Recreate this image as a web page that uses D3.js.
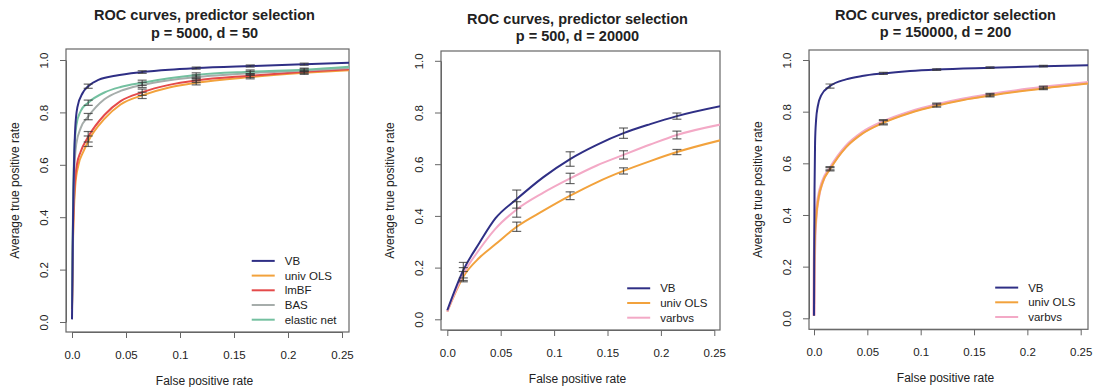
<!DOCTYPE html>
<html>
<head>
<meta charset="utf-8">
<script src="https://cdn.jsdelivr.net/npm/d3@7"></script>
<style>
  body { margin: 0; background: #fff; }
  svg { display: block; font-family: "Liberation Sans", Arial, sans-serif; }
</style>
</head>
<body>
<svg id="chart" width="1098" height="387"></svg>
<script>
// x positions where error bars were drawn
const errX = [0.015, 0.065, 0.115, 0.165, 0.215];
const xTicks = [0, 0.05, 0.1, 0.15, 0.2, 0.25];
const xTickLabels = ['0.0', '0.05', '0.1', '0.15', '0.2', '0.25'];
const yTicks = [0, 0.2, 0.4, 0.6, 0.8, 1.0];
const yTickLabels = ['0.0', '0.2', '0.4', '0.6', '0.8', '1.0'];

// panel 1: p = 5000, d = 50
const p1VB = [[0,0.01],[0.0005,0.2],[0.001,0.4],[0.002,0.62],[0.003,0.74],[0.005,0.82],[0.01,0.875],[0.015,0.9],[0.025,0.925],[0.04,0.94],[0.065,0.954],[0.09,0.963],[0.115,0.969],[0.165,0.977],[0.215,0.984],[0.26,0.99]];
const p1OLS = [[0,0.05],[0.0005,0.18],[0.001,0.32],[0.002,0.45],[0.003,0.52],[0.006,0.6],[0.0105,0.65],[0.015,0.69],[0.03,0.775],[0.045,0.83],[0.065,0.865],[0.09,0.895],[0.115,0.913],[0.165,0.935],[0.215,0.951],[0.26,0.962]];
const p1LmBF = [[0,0.06],[0.0005,0.2],[0.001,0.35],[0.002,0.48],[0.003,0.55],[0.0045,0.6],[0.008,0.65],[0.015,0.707],[0.03,0.79],[0.045,0.843],[0.065,0.877],[0.09,0.905],[0.115,0.922],[0.165,0.94],[0.215,0.955],[0.26,0.966]];
const p1BAS = [[0,0.06],[0.0005,0.25],[0.001,0.4],[0.002,0.57],[0.004,0.68],[0.008,0.74],[0.015,0.784],[0.03,0.85],[0.045,0.882],[0.065,0.905],[0.09,0.923],[0.115,0.935],[0.165,0.95],[0.215,0.96],[0.26,0.97]];
const p1Enet = [[0,0.06],[0.0005,0.28],[0.001,0.45],[0.002,0.64],[0.004,0.75],[0.008,0.805],[0.015,0.837],[0.03,0.876],[0.045,0.897],[0.065,0.913],[0.09,0.93],[0.115,0.943],[0.165,0.955],[0.215,0.963],[0.26,0.975]];
const p1Err = {
  VB: [0.008, 0.005, 0.004, 0.004, 0.004],
  OLS: [0.02, 0.012, 0.008, 0.007, 0.006],
  LmBF: [0.02, 0.012, 0.008, 0.007, 0.006],
  BAS: [0.012, 0.01, 0.008, 0.007, 0.006],
  Enet: [0.01, 0.01, 0.008, 0.007, 0.006]
};

// panel 2: p = 500, d = 20000
const p2VB = [[0,0.035],[0.015,0.19],[0.03,0.295],[0.045,0.39],[0.065,0.465],[0.09,0.55],[0.115,0.62],[0.14,0.675],[0.165,0.72],[0.19,0.755],[0.215,0.786],[0.26,0.828]];
const p2OLS = [[0,0.03],[0.015,0.165],[0.03,0.238],[0.045,0.29],[0.065,0.358],[0.09,0.42],[0.115,0.478],[0.14,0.53],[0.165,0.574],[0.19,0.612],[0.215,0.647],[0.26,0.697]];
const p2Varbvs = [[0,0.03],[0.015,0.175],[0.03,0.27],[0.045,0.35],[0.065,0.425],[0.09,0.49],[0.115,0.545],[0.14,0.595],[0.165,0.636],[0.19,0.676],[0.215,0.713],[0.26,0.757]];
const p2Err = {
  VB: [0.03, 0.035, 0.028, 0.02, 0.012],
  OLS: [0.02, 0.018, 0.015, 0.012, 0.01],
  Varbvs: [0.025, 0.03, 0.02, 0.016, 0.015]
};

// panel 3: p = 150000, d = 200
const p3VB = [[0,0.01],[0.0002,0.25],[0.0005,0.5],[0.001,0.68],[0.002,0.77],[0.0035,0.82],[0.007,0.865],[0.015,0.899],[0.03,0.925],[0.045,0.938],[0.065,0.948],[0.09,0.957],[0.115,0.963],[0.165,0.97],[0.215,0.976],[0.26,0.98]];
const p3OLS = [[0,0.01],[0.0003,0.2],[0.0008,0.3],[0.002,0.39],[0.004,0.46],[0.008,0.525],[0.015,0.577],[0.03,0.662],[0.045,0.714],[0.065,0.757],[0.09,0.795],[0.115,0.823],[0.14,0.845],[0.165,0.862],[0.19,0.877],[0.215,0.89],[0.26,0.91]];
const p3Varbvs = [[0,0.01],[0.0003,0.21],[0.0008,0.31],[0.002,0.4],[0.004,0.465],[0.008,0.53],[0.015,0.581],[0.03,0.666],[0.045,0.718],[0.065,0.761],[0.09,0.799],[0.115,0.827],[0.14,0.849],[0.165,0.866],[0.19,0.881],[0.215,0.894],[0.26,0.914]];
const p3Err = {
  VB: [0.008, 0.004, 0.003, 0.003, 0.003],
  OLS: [0.006, 0.008, 0.006, 0.005, 0.005],
  Varbvs: [0.006, 0.008, 0.006, 0.005, 0.005]
};

const titleLine1 = 'ROC curves, predictor selection';
const subTitles = ['p = 5000, d = 50', 'p = 500, d = 20000', 'p = 150000, d = 200'];

const colVB = '#2f2f85', colOLS = '#f2a23c', colLmBF = '#e44a4a',
      colBAS = '#a6adab', colEnet = '#74c0a0', colVarbvs = '#f3a9c6';

// series in draw order (back to front); legend keeps its own order
const panels = [
  {
    box: [66, 49, 349, 332], xr: [72, 342], yr: [322, 60], t1: 20, t2: 38,
    series: [
      {data: p1OLS, err: p1Err.OLS, color: colOLS},
      {data: p1LmBF, err: p1Err.LmBF, color: colLmBF},
      {data: p1BAS, err: p1Err.BAS, color: colBAS},
      {data: p1Enet, err: p1Err.Enet, color: colEnet},
      {data: p1VB, err: p1Err.VB, color: colVB}
    ],
    legend: [['VB', colVB], ['univ OLS', colOLS], ['lmBF', colLmBF], ['BAS', colBAS], ['elastic net', colEnet]]
  },
  {
    box: [441, 51, 720, 330], xr: [447.3, 714.3], yr: [319.3, 60.8], t1: 24, t2: 41,
    series: [
      {data: p2OLS, err: p2Err.OLS, color: colOLS},
      {data: p2Varbvs, err: p2Err.Varbvs, color: colVarbvs},
      {data: p2VB, err: p2Err.VB, color: colVB}
    ],
    legend: [['VB', colVB], ['univ OLS', colOLS], ['varbvs', colVarbvs]]
  },
  {
    box: [809, 50, 1088, 329.3], xr: [814, 1080.7], yr: [318.3, 60], t1: 20, t2: 37,
    series: [
      {data: p3Varbvs, err: p3Err.Varbvs, color: colVarbvs, width: 3.2},
      {data: p3OLS, err: p3Err.OLS, color: colOLS},
      {data: p3VB, err: p3Err.VB, color: colVB}
    ],
    legend: [['VB', colVB], ['univ OLS', colOLS], ['varbvs', colVarbvs]]
  }
];

const svg = d3.select('#chart');
const textCol = '#222';

panels.forEach((p, i) => {
  const [bx0, by0, bx1, by1] = p.box;
  const x = d3.scaleLinear().domain([0, 0.25]).range(p.xr);
  const y = d3.scaleLinear().domain([0, 1]).range(p.yr);
  const g = svg.append('g');

  // clip to plot box
  const clipId = 'clip' + i;
  svg.append('clipPath').attr('id', clipId)
    .append('rect').attr('x', bx0).attr('y', by0).attr('width', bx1 - bx0).attr('height', by1 - by0);

  // titles
  const tx = (bx0 + bx1) / 2 - 3;
  g.append('text').attr('x', tx).attr('y', p.t1).attr('text-anchor', 'middle')
    .style('font-size', '14.5px').style('font-weight', 'bold').attr('fill', textCol).text(titleLine1);
  g.append('text').attr('x', tx).attr('y', p.t2).attr('text-anchor', 'middle')
    .style('font-size', '14.5px').style('font-weight', 'bold').attr('fill', textCol).text(subTitles[i]);

  // axes
  const xAxis = d3.axisBottom(x).tickValues(xTicks).tickFormat((d, k) => xTickLabels[k])
    .tickSize(6).tickSizeOuter(0);
  const gx = g.append('g').attr('transform', 'translate(0,' + by1 + ')').call(xAxis);
  gx.selectAll('text').attr('y', 23).attr('dy', '0.35em')
    .style('font-size', '11.5px').attr('fill', textCol);

  const yAxis = d3.axisLeft(y).tickValues(yTicks).tickFormat((d, k) => yTickLabels[k])
    .tickSize(6).tickSizeOuter(0);
  const gy = g.append('g').attr('transform', 'translate(' + bx0 + ',0)').call(yAxis);
  gy.selectAll('text').attr('x', 0).attr('dy', '0.35em').attr('text-anchor', 'middle')
    .attr('transform', 'translate(-22,0) rotate(-90)')
    .style('font-size', '11.5px').attr('fill', textCol);

  [gx, gy].forEach(a => {
    a.selectAll('line').attr('stroke', '#666');
    a.select('.domain').attr('stroke', '#666');
    a.attr('font-family', null);
  });

  // box
  g.append('rect').attr('x', bx0).attr('y', by0).attr('width', bx1 - bx0).attr('height', by1 - by0)
    .attr('fill', 'none').attr('stroke', '#666').attr('stroke-width', 1.2);

  // axis titles
  g.append('text').attr('x', tx).attr('y', by1 + 48.5).attr('dy', '0.35em').attr('text-anchor', 'middle')
    .style('font-size', '12px').attr('fill', textCol).text('False positive rate');
  g.append('text').attr('text-anchor', 'middle').attr('dy', '0.35em')
    .attr('transform', 'translate(' + (bx0 - 51) + ',' + ((by0 + by1) / 2) + ') rotate(-90)')
    .style('font-size', '12px').attr('fill', textCol).text('Average true positive rate');

  // curves
  const line = d3.line().x(d => x(d[0])).y(d => y(d[1])).curve(d3.curveMonotoneX);
  const plot = g.append('g').attr('clip-path', 'url(#' + clipId + ')');
  p.series.forEach(s => {
    plot.append('path').datum(s.data).attr('d', line)
      .attr('fill', 'none').attr('stroke', s.color).attr('stroke-width', s.width || 2);
  });

  // error bars
  p.series.forEach(s => {
    errX.forEach((ex, k) => {
      const pt = s.data.find(d => d[0] === ex);
      if (!pt) return;
      const cx = x(ex), lo = y(pt[1] - s.err[k]), hi = y(pt[1] + s.err[k]);
      const eb = plot.append('g').attr('stroke', '#333').attr('stroke-opacity', 0.75).attr('stroke-width', 1.2);
      eb.append('line').attr('x1', cx).attr('x2', cx).attr('y1', lo).attr('y2', hi);
      eb.append('line').attr('x1', cx - 4.5).attr('x2', cx + 4.5).attr('y1', lo).attr('y2', lo);
      eb.append('line').attr('x1', cx - 4.5).attr('x2', cx + 4.5).attr('y1', hi).attr('y2', hi);
    });
  });

  // legend, bottom right
  const lg = g.append('g');
  const labels = lg.selectAll('text').data(p.legend).join('text')
    .style('font-size', '11.5px').attr('fill', textCol).attr('dy', '0.35em').text(d => d[0]);
  const maxW = d3.max(labels.nodes(), n => n.getComputedTextLength());
  const textX = bx1 - 12.5 - maxW;
  const rowH = 14.7;
  const lastY = by1 - 12.3;
  const firstY = lastY - (p.legend.length - 1) * rowH;
  labels.attr('x', textX).attr('y', (d, k) => firstY + k * rowH);
  lg.selectAll('line').data(p.legend).join('line')
    .attr('x1', textX - 33).attr('x2', textX - 10)
    .attr('y1', (d, k) => firstY + k * rowH).attr('y2', (d, k) => firstY + k * rowH)
    .attr('stroke', d => d[1]).attr('stroke-width', 2);
});
</script>
</body>
</html>
